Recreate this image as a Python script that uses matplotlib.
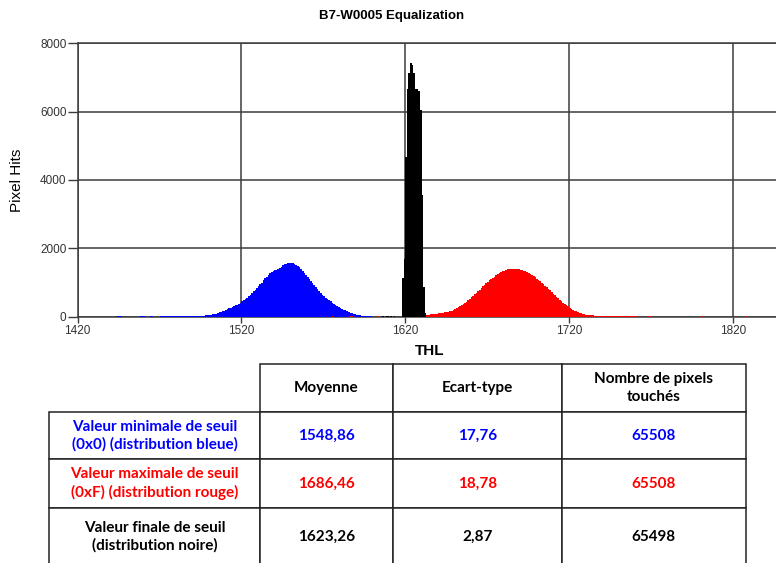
import numpy as np
import matplotlib
matplotlib.use("Agg")
import matplotlib.pyplot as plt

# Histogram counts per THL bin
blue_start = 1470
blue_counts = [
    25, 20, 30, 25, 20, 25, 30, 25, 20, 25, 30, 25, 20, 25, 30, 25,
    25, 30, 25, 30, 30, 35, 30, 35, 30, 35,
    30, 35, 40, 45, 50, 55, 65, 75, 90, 105, 125, 140, 160, 175, 195,
    215, 240, 265, 285, 305, 330, 355, 380, 410, 445, 480, 515, 555,
    600, 645, 690, 740, 790, 835, 890, 945, 1000, 1060, 1120, 1175,
    1230, 1280, 1310, 1340, 1365, 1380, 1400, 1430, 1465, 1500, 1530,
    1555, 1560, 1585, 1575, 1580, 1550, 1520, 1480, 1440, 1390, 1340,
    1290, 1230, 1160, 1100, 1040, 980, 920, 860, 800, 745, 690, 640,
    600, 560, 520, 480, 445, 410, 380, 350, 320, 290, 260, 235, 210,
    185, 160, 140, 120, 100, 85, 70, 60, 50, 42, 35, 30, 26, 22, 20,
    18, 16,
]
blue_sparse_thl = [1444, 1445, 1446, 1458, 1459, 1460, 1464, 1465]
blue_sparse_counts = [35, 30, 35, 30, 35, 30, 35, 30]

black_start = 1618
black_counts = [1130, 1680, 4660, 6650, 7120, 7430, 7360, 7130, 6650,
                6650, 6600, 6040, 3560, 880, 120]
black_sparse_thl = [1606, 1608, 1609, 1611, 1613]
black_sparse_counts = [25, 30, 25, 30, 25]

red_start = 1633
red_counts = [
    40, 60, 70, 75, 80, 85, 90, 95, 100, 105, 115, 125, 135, 150, 165,
    180, 200, 220, 245, 270, 300, 330, 365, 400, 440, 480, 520, 565,
    610, 655, 700, 745, 790, 840, 885, 930, 975, 1020, 1060, 1100, 1140,
    1175, 1210, 1240, 1270, 1300, 1325, 1350, 1375, 1395, 1410, 1405,
    1395, 1400, 1390, 1395, 1385, 1380, 1360, 1350, 1330, 1310, 1280,
    1250, 1220, 1185, 1150, 1110, 1070, 1030, 990, 945, 900, 860, 815,
    770, 720, 670, 625, 580, 535, 490, 450, 410, 370, 335, 300, 265,
    235, 205, 180, 155, 135, 115, 100, 85, 72, 62, 55, 48, 42, 38, 34,
    30, 28, 26, 24, 22, 20, 25, 20, 25, 20, 25, 20, 25, 20, 25, 20, 25,
    20, 25, 20, 25, 20, 25, 20,
]
red_sparse_thl = [1575, 1586, 1587, 1603, 1760, 1761, 1768, 1769, 1801, 1828]
red_sparse_counts = [30, 30, 30, 30, 35, 35, 35, 35, 35, 35]

x_ticks = [1420, 1520, 1620, 1720, 1820]
y_ticks = [0, 2000, 4000, 6000, 8000]

col_labels = ["Moyenne", "Ecart-type", "Nombre de pixels\ntouchés"]
row_labels = ["Valeur minimale de seuil\n(0x0) (distribution bleue)",
              "Valeur maximale de seuil\n(0xF) (distribution rouge)",
              "Valeur finale de seuil\n(distribution noire)"]
cell_values = [["1548,86", "17,76", "65508"],
               ["1686,46", "18,78", "65508"],
               ["1623,26", "2,87", "65498"]]
row_colors = ["#0000ff", "#ff0000", "#000000"]

W, H = 776, 563
fig = plt.figure(figsize=(W / 100, H / 100), dpi=100)
grid_col = "#3c3c3c"

ax = fig.add_axes([77.7 / W, 1 - 316.7 / H, (W - 77.7) / W, (316.7 - 43.3) / H])


def draw_hist(start, counts, sp_thl, sp_counts, color):
    edges = start + np.arange(len(counts) + 1)
    ax.stairs(counts, edges, fill=True, color=color, lw=0, zorder=3)
    ax.bar(sp_thl, sp_counts, width=1, align="edge", color=color, lw=0, zorder=3)


draw_hist(blue_start, blue_counts, blue_sparse_thl, blue_sparse_counts, "#0000ff")
draw_hist(red_start, red_counts, red_sparse_thl, red_sparse_counts, "#ff0000")
draw_hist(black_start, black_counts, black_sparse_thl, black_sparse_counts, "#000000")

ax.set_xlim(1420, 1420 + (W - 77.7) / 1.6375)
ax.set_ylim(0, 8000)
ax.set_xticks(x_ticks)
ax.set_yticks(y_ticks)
ax.set_axisbelow(True)
ax.grid(True, color=grid_col, lw=1.1)
for side in ["left", "bottom", "top"]:
    ax.spines[side].set_color(grid_col)
    ax.spines[side].set_linewidth(1.1)
ax.spines["right"].set_visible(False)
ax.tick_params(axis="y", length=7, width=1.0, color=grid_col, pad=1,
               labelsize=8.5, labelcolor="#333333")
ax.tick_params(axis="x", length=4.5, width=1.0, color=grid_col, pad=1.5,
               labelsize=8.5, labelcolor="#333333")
for lab in ax.get_xticklabels() + ax.get_yticklabels():
    lab.set_family("Liberation Sans")

fig.text(392 / W, 1 - 16 / H, "B7-W0005 Equalization", ha="center", va="center",
         fontsize=9.5, fontweight="bold", family="Liberation Sans")
fig.text(17 / W, 1 - 180 / H, "Pixel Hits", rotation=90, ha="center", va="center",
         fontsize=11, family="Liberation Sans")
fig.text(430 / W, 1 - 351 / H, "THL", ha="center", va="center",
         fontsize=11, fontweight="bold", family="Liberation Sans")

# table below the chart
tax = fig.add_axes([0, 0, 1, 1])
tax.axis("off")
rows = [[""] + col_labels] + [[lab] + vals for lab, vals in zip(row_labels, cell_values)]
col_w = [210.7, 132.7, 169.0, 184.0]
row_h = [47.4, 47.6, 49.0, 57.0]
tbl = tax.table(cellText=rows, cellLoc="center",
                colWidths=[w / W for w in col_w],
                bbox=[49.3 / W, 1 - (364.3 + sum(row_h)) / H, sum(col_w) / W, sum(row_h) / H])
tbl.auto_set_font_size(False)
for (r, c), cell in tbl.get_celld().items():
    cell.set_height(row_h[r] / H)
    cell.set_edgecolor("#222222")
    cell.set_linewidth(1.1)
    txt = cell.get_text()
    txt.set_fontsize(11)
    txt.set_fontweight("bold")
    txt.set_family("Lato")
    txt.set_linespacing(1.3)
    txt.set_color("#000000" if r == 0 else row_colors[r - 1])
tbl[0, 0].visible_edges = "open"

fig.savefig("out.png", dpi=100)
